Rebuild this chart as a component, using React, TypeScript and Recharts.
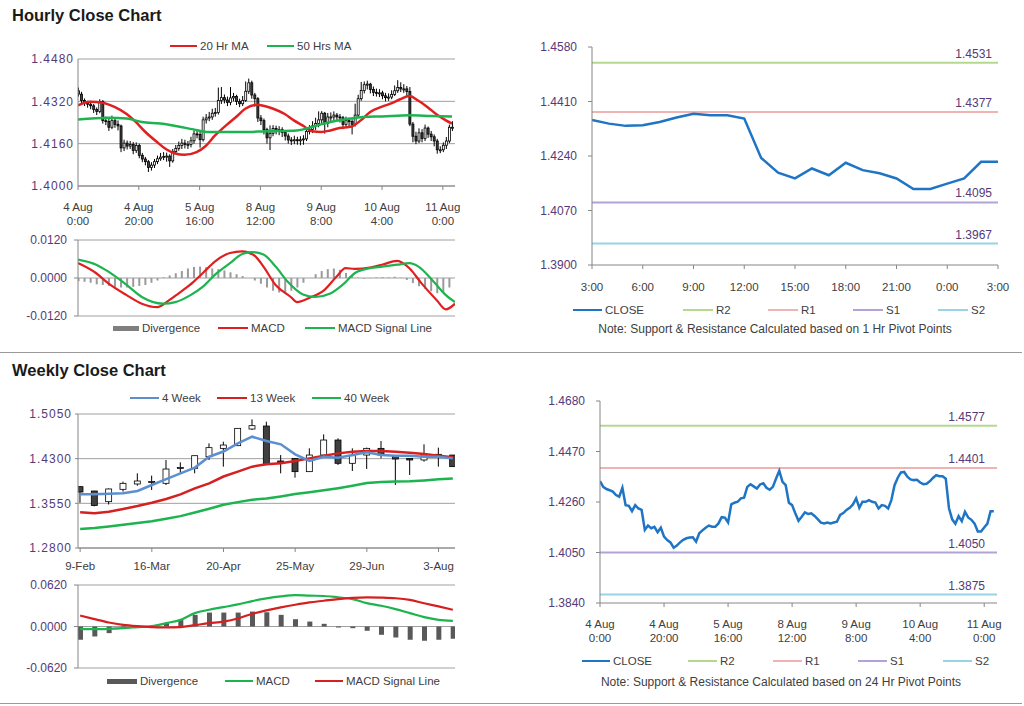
import React from 'react';
import { ComposedChart, Bar, Line, XAxis, YAxis, CartesianGrid, ReferenceLine } from 'recharts';

const FONT = '"Liberation Sans", Arial, sans-serif';
const AXIS = '#868686';
const GRID = '#a0a0a0';
const TICK_Y = '#553a77';
const TICK_X = '#404040';

// ---- hourly data (4 Aug 0:00 .. 11 Aug 3:00) ----
const hourlyFirstOpen = 1.436;
const hourlyClose = [
  1.4347, 1.4323, 1.4314, 1.4309, 1.4303, 1.4289, 1.4282, 1.4319, 1.4247, 1.4244,
  1.4222, 1.4247, 1.4233, 1.4227, 1.4144, 1.4162, 1.4151, 1.4157, 1.4134, 1.4153,
  1.4116, 1.4102, 1.4092, 1.407, 1.4079, 1.4092, 1.4103, 1.4109, 1.4112, 1.4113,
  1.4095, 1.413, 1.4142, 1.4153, 1.4162, 1.4157, 1.4157, 1.4171, 1.4197, 1.4195,
  1.4175, 1.425, 1.4257, 1.4261, 1.4275, 1.4278, 1.4323, 1.4334, 1.4325, 1.4316,
  1.4333, 1.4338, 1.4319, 1.4311, 1.4323, 1.4358, 1.439, 1.4344, 1.433, 1.4257,
  1.4247, 1.4213, 1.4182, 1.4199, 1.4217, 1.421, 1.4213, 1.4202, 1.4189, 1.4174,
  1.4171, 1.4175, 1.4171, 1.4175, 1.4178, 1.4206, 1.4214, 1.4227, 1.4236, 1.425,
  1.4275, 1.4236, 1.4261, 1.4261, 1.4268, 1.4261, 1.4258, 1.4233, 1.4247, 1.4244,
  1.4233, 1.4268, 1.433, 1.4361, 1.4383, 1.4385, 1.4365, 1.4354, 1.4351, 1.4352,
  1.4341, 1.4334, 1.4336, 1.4346, 1.436, 1.4372, 1.4367, 1.4367, 1.4357, 1.4234,
  1.4188, 1.417, 1.4201, 1.418, 1.4219, 1.4196, 1.4186, 1.417, 1.4137, 1.4137,
  1.4154, 1.417, 1.4222, 1.4222,
];
const hourlyHigh = [
  1.4372, 1.4356, 1.4331, 1.4322, 1.4318, 1.431, 1.4297, 1.4328, 1.4325, 1.4262,
  1.4254, 1.4266, 1.4255, 1.4248, 1.4232, 1.4175, 1.4172, 1.417, 1.4166, 1.4165,
  1.416, 1.4125, 1.411, 1.4098, 1.409, 1.4102, 1.4115, 1.4125, 1.4128, 1.4126,
  1.412, 1.414, 1.4155, 1.4168, 1.4178, 1.4175, 1.417, 1.4186, 1.421, 1.4212,
  1.4205, 1.4262, 1.4272, 1.428, 1.4292, 1.4295, 1.4372, 1.4374, 1.4346, 1.4338,
  1.4374, 1.4352, 1.4345, 1.433, 1.434, 1.4395, 1.4406, 1.4398, 1.4352, 1.4336,
  1.4268, 1.4255, 1.422, 1.4229, 1.423, 1.4228, 1.4226, 1.4222, 1.421, 1.4198,
  1.4185, 1.419, 1.4186, 1.4188, 1.4192, 1.4218, 1.423, 1.4245, 1.4258, 1.4282,
  1.4283, 1.428, 1.4276, 1.4278, 1.4282, 1.4276, 1.4272, 1.4265, 1.4262, 1.4258,
  1.4252, 1.4311, 1.4345, 1.4393, 1.4395, 1.4398, 1.439, 1.4376, 1.4368, 1.4366,
  1.436, 1.4352, 1.435, 1.4362, 1.438, 1.44, 1.4392, 1.4385, 1.4378, 1.4374,
  1.4242, 1.4205, 1.4218, 1.4215, 1.4232, 1.4225, 1.4208, 1.4195, 1.4178, 1.415,
  1.4165, 1.4185, 1.4232, 1.4245,
];
const hourlyLow = [
  1.4338, 1.4312, 1.4302, 1.4296, 1.429, 1.4276, 1.4268, 1.4275, 1.4236, 1.423,
  1.4208, 1.4215, 1.422, 1.421, 1.4128, 1.4132, 1.4138, 1.414, 1.412, 1.4125,
  1.4105, 1.409, 1.4078, 1.4053, 1.4058, 1.4068, 1.4083, 1.4095, 1.4098, 1.4092,
  1.4072, 1.4088, 1.412, 1.4133, 1.414, 1.4142, 1.414, 1.4146, 1.416, 1.418,
  1.4145, 1.4168, 1.4236, 1.4245, 1.425, 1.4262, 1.427, 1.431, 1.4312, 1.4302,
  1.4305, 1.432, 1.4306, 1.4298, 1.4302, 1.4318, 1.4348, 1.433, 1.43, 1.4242,
  1.423, 1.4195, 1.416, 1.4136, 1.4188, 1.4195, 1.4192, 1.4185, 1.4172, 1.416,
  1.4155, 1.4158, 1.4156, 1.4154, 1.4156, 1.417, 1.4195, 1.42, 1.4212, 1.4222,
  1.4238, 1.4198, 1.4222, 1.424, 1.4245, 1.4246, 1.424, 1.4215, 1.422, 1.4226,
  1.4195, 1.4225, 1.426, 1.4322, 1.435, 1.4365, 1.435, 1.434, 1.4338, 1.4336,
  1.4328, 1.432, 1.4322, 1.4328, 1.434, 1.4352, 1.4355, 1.4352, 1.434, 1.4226,
  1.4165, 1.4158, 1.4162, 1.4165, 1.417, 1.4182, 1.417, 1.415, 1.4122, 1.4124,
  1.4128, 1.414, 1.4162, 1.4208,
];
const hourlyTickIdx = [0, 20, 40, 60, 80, 100, 120];
const hourlyTickLabels = [
  ['4 Aug', '0:00'], ['4 Aug', '20:00'], ['5 Aug', '16:00'], ['8 Aug', '12:00'],
  ['9 Aug', '8:00'], ['10 Aug', '4:00'], ['11 Aug', '0:00'],
];

// moving averages read at the hours listed
const ma20Idx = [0, 4, 8, 12, 16, 19, 22, 26, 29, 32, 35, 39, 42, 45, 49, 52, 55, 59, 61, 64, 68, 71, 74, 77, 80, 83, 86, 90, 93, 96, 100, 103, 106, 109, 112, 115, 118, 121, 123];
const ma20 = [1.4305, 1.4318, 1.4315, 1.4299, 1.4272, 1.4242, 1.4206, 1.4166, 1.4139, 1.4123, 1.4118, 1.4128, 1.4151, 1.419, 1.4232, 1.4261, 1.4292, 1.4307, 1.4303, 1.4293, 1.4272, 1.4248, 1.4228, 1.4207, 1.4204, 1.421, 1.4219, 1.4225, 1.4248, 1.4279, 1.43, 1.4312, 1.4328, 1.434, 1.4322, 1.4298, 1.427, 1.4248, 1.4236];
const ma50Idx = [0, 10, 16, 21, 27, 32, 38, 43, 49, 54, 62, 72, 78, 83, 88, 94, 100, 109, 116, 123];
const ma50 = [1.4251, 1.4258, 1.4255, 1.4242, 1.4236, 1.4227, 1.4214, 1.4204, 1.4204, 1.4204, 1.4207, 1.421, 1.4227, 1.4242, 1.4252, 1.4261, 1.4263, 1.4267, 1.4265, 1.4263];

// hourly MACD
const macdIdx = [0, 6, 10, 16, 21, 26, 30, 33, 38, 41, 45, 50, 54, 58, 61, 65, 70, 72, 76, 81, 85, 88, 91, 96, 100, 105, 109, 113, 118, 121, 124];
const macdHourly = [0.0047, 0.0015, -0.0017, -0.0054, -0.0081, -0.0092, -0.007, -0.0049, -0.0012, 0.0015, 0.0052, 0.0079, 0.0084, 0.0071, 0.0036, -0.0022, -0.006, -0.0076, -0.0063, -0.0038, 0.0004, 0.0031, 0.0029, 0.0033, 0.0042, 0.0054, 0.0031, -0.0017, -0.007, -0.0099, -0.0081];
const signalIdx = [0, 6, 10, 16, 21, 28, 32, 37, 41, 45, 50, 54, 57, 61, 65, 69, 74, 78, 83, 87, 91, 96, 100, 105, 109, 112, 117, 121, 124];
const signalHourly = [0.0058, 0.0042, 0.002, -0.0022, -0.006, -0.0081, -0.0076, -0.0054, -0.0028, 0.001, 0.0047, 0.0076, 0.0082, 0.0074, 0.0036, -0.0012, -0.0052, -0.006, -0.0049, -0.0022, 0.0015, 0.0031, 0.0036, 0.0042, 0.0047, 0.0036, -0.0012, -0.0054, -0.0076];
// divergence, one bar every two hours
const divHourly = [
  -0.001, -0.0012, -0.0015, -0.002, -0.0022, -0.0025, -0.0028, -0.003, -0.003, -0.0028,
  -0.0025, -0.0022, -0.0015, -0.0008, 0.0002, 0.0008, 0.0015, 0.0022, 0.003, 0.0035,
  0.0036, 0.0034, 0.003, 0.0028, 0.0024, 0.0018, 0.0012, 0.0006, 0.0, -0.0008,
  -0.0018, -0.003, -0.004, -0.0046, -0.0048, -0.004, -0.003, -0.0015, 0.0, 0.0012,
  0.0022, 0.0028, 0.003, 0.0026, 0.0016, 0.0006, 0.0001, -0.0002, -0.0001, 0.0002,
  0.0003, 0.0002, 0.0004, 0.0001, -0.0006, -0.0016, -0.0026, -0.0034, -0.0042, -0.0048,
  -0.0045, -0.003,
];

// pivot levels
const hourPivotNames = ['R2', 'R1', 'S1', 'S2'];
const hourPivotValues = [1.4531, 1.4377, 1.4095, 1.3967];
const dayPivotValues = [1.4577, 1.4401, 1.405, 1.3875];
const pivotColors = ['#b5d88f', '#f0b3b3', '#b3a2d6', '#9ad3e3'];
const lastDayHours = ['3:00', '4:00', '5:00', '6:00', '7:00', '8:00', '9:00', '10:00', '11:00', '12:00', '13:00', '14:00', '15:00', '16:00', '17:00', '18:00', '19:00', '20:00', '21:00', '22:00', '23:00', '0:00', '1:00', '2:00', '3:00'];

// ---- weekly data ----
const weekLabels = ['9-Feb', '16-Feb', '23-Feb', '2-Mar', '9-Mar', '16-Mar', '23-Mar', '30-Mar', '6-Apr', '13-Apr', '20-Apr', '27-Apr', '4-May', '11-May', '18-May', '25-May', '1-Jun', '8-Jun', '15-Jun', '22-Jun', '29-Jun', '6-Jul', '13-Jul', '20-Jul', '27-Jul', '3-Aug', '10-Aug'];
const weeklyOpen = [1.383, 1.3757, 1.3578, 1.3785, 1.3875, 1.391, 1.3886, 1.4145, 1.4138, 1.4333, 1.4473, 1.4518, 1.4798, 1.4848, 1.4261, 1.4305, 1.4082, 1.4361, 1.4613, 1.4222, 1.4361, 1.4473, 1.435, 1.4305, 1.4278, 1.4373, 1.4361];
const weeklyClose = [1.374, 1.3515, 1.3791, 1.3886, 1.3925, 1.3918, 1.4126, 1.4152, 1.435, 1.4485, 1.4529, 1.4809, 1.4854, 1.4205, 1.4222, 1.4082, 1.4361, 1.4613, 1.4222, 1.435, 1.4473, 1.4361, 1.4294, 1.4278, 1.4361, 1.435, 1.4166];
const weeklyHigh = [1.3835, 1.376, 1.38, 1.3914, 1.4054, 1.4015, 1.4278, 1.4238, 1.435, 1.4557, 1.4585, 1.4809, 1.496, 1.4921, 1.4361, 1.4305, 1.4473, 1.4708, 1.4641, 1.4473, 1.4485, 1.4597, 1.435, 1.4305, 1.4541, 1.4485, 1.4361];
const weeklyLow = [1.356, 1.35, 1.353, 1.3746, 1.3847, 1.3774, 1.3858, 1.4054, 1.4054, 1.4277, 1.4166, 1.4518, 1.4781, 1.42, 1.4054, 1.3981, 1.4082, 1.4361, 1.4194, 1.4093, 1.4126, 1.4305, 1.3858, 1.4026, 1.425, 1.4166, 1.4166];
const ma4w = [1.3701, 1.3701, 1.3712, 1.3718, 1.3757, 1.3858, 1.3958, 1.4054, 1.415, 1.4333, 1.442, 1.4557, 1.4669, 1.4597, 1.4541, 1.4373, 1.4261, 1.4333, 1.4317, 1.4361, 1.4406, 1.4361, 1.435, 1.435, 1.4333, 1.4333, 1.4305];
const ma13w = [1.3399, 1.3382, 1.341, 1.3455, 1.3505, 1.3561, 1.3623, 1.3701, 1.3802, 1.3886, 1.4, 1.4082, 1.4166, 1.4205, 1.4222, 1.4261, 1.4305, 1.435, 1.4389, 1.4417, 1.4428, 1.4428, 1.4417, 1.4401, 1.4378, 1.435, 1.4322];
const ma40w = [1.3119, 1.3135, 1.316, 1.319, 1.322, 1.325, 1.329, 1.3335, 1.3395, 1.346, 1.3525, 1.357, 1.361, 1.363, 1.3665, 1.3705, 1.3735, 1.377, 1.3805, 1.3845, 1.389, 1.391, 1.3918, 1.392, 1.3935, 1.3955, 1.3968];
const divWeekly = [-0.0198, -0.0149, -0.0099, -0.0025, -0.0008, 0.0005, 0.005, 0.0099, 0.0174, 0.0208, 0.0208, 0.0208, 0.0223, 0.0213, 0.0174, 0.0109, 0.0074, 0.004, -0.0015, -0.0025, -0.0064, -0.0124, -0.0164, -0.0198, -0.0213, -0.0198, -0.0183];
const macdWeekly = [-0.0035, -0.004, -0.0035, -0.0025, -0.001, 0.0005, 0.005, 0.0099, 0.02, 0.025, 0.029, 0.033, 0.038, 0.042, 0.045, 0.0468, 0.0461, 0.0456, 0.0435, 0.041, 0.035, 0.031, 0.026, 0.02, 0.014, 0.01, 0.0084];
const signalWeekly = [0.0164, 0.011, 0.006, 0.0025, 0.0005, -0.0008, -0.0015, -0.001, 0.002, 0.005, 0.0074, 0.012, 0.019, 0.024, 0.0285, 0.0325, 0.036, 0.0385, 0.041, 0.0428, 0.0436, 0.0432, 0.0422, 0.0397, 0.0347, 0.03, 0.025];

// ---- tables ----
const hourlyRows = hourlyClose.map((c, i) => ({
  i,
  open: i === 0 ? hourlyFirstOpen : hourlyClose[i - 1],
  close: c,
  high: hourlyHigh[i],
  low: hourlyLow[i],
  range: [hourlyLow[i], hourlyHigh[i]],
}));
const pts = (idx: number[], vals: number[]) => idx.map((i, k) => ({ i, v: vals[k] }));
const ma20Pts = pts(ma20Idx, ma20);
const ma50Pts = pts(ma50Idx, ma50);
const macdPts = pts(macdIdx, macdHourly);
const signalPts = pts(signalIdx, signalHourly);
const divRows = divHourly.map((d, k) => ({ i: k * 2, d }));
const dayRows = hourlyClose.slice(-25).map((close, i) => ({ i, close }));

const weeklyRows = weekLabels.map((_, w) => ({
  w,
  open: weeklyOpen[w],
  close: weeklyClose[w],
  high: weeklyHigh[w],
  low: weeklyLow[w],
  range: [weeklyLow[w], weeklyHigh[w]],
  ma4: ma4w[w],
  ma13: ma13w[w],
  ma40: ma40w[w],
  d: divWeekly[w],
  macd: macdWeekly[w],
  sig: signalWeekly[w],
}));

const fmt4 = (v: number) => v.toFixed(4);

const Candle = (props: any) => {
  const { x, y, width, height, payload } = props;
  if (x == null || !payload) return null;
  const top = Math.min(y, y + height);
  const h = Math.abs(height);
  const { open, close, high, low } = payload;
  const yOf = (v: number) => top + ((high - v) / (high - low)) * h;
  const cx = x + width / 2;
  const bodyTop = yOf(Math.max(open, close));
  const bodyH = Math.max(1, yOf(Math.min(open, close)) - bodyTop);
  const up = close >= open;
  return (
    <g>
      <line x1={cx} x2={cx} y1={top} y2={top + h} stroke="#000" strokeWidth={1} />
      <rect x={x} y={bodyTop} width={width} height={bodyH} fill={up ? '#fff' : '#404040'} stroke="#000" strokeWidth={0.8} />
    </g>
  );
};

const TwoLineTick = (props: any) => {
  const { x, y, payload } = props;
  const k = hourlyTickIdx.indexOf(payload.value);
  const [a, b] = hourlyTickLabels[k] ?? ['', ''];
  return (
    <text x={x} y={y} textAnchor="middle" fill={TICK_X} fontSize={11.5} fontFamily={FONT}>
      <tspan x={x} dy={16.5}>{a}</tspan>
      <tspan x={x} dy={14}>{b}</tspan>
    </text>
  );
};

const PivotLabel = (props: any) => {
  const { viewBox, text, inset } = props;
  if (!viewBox) return null;
  return (
    <text x={viewBox.x + viewBox.width - inset} y={viewBox.y - 5} textAnchor="end" fontSize={12} fontFamily={FONT} fill={TICK_Y}>
      {text}
    </text>
  );
};

const Key = ({ x, y, w = 29, color, label, box = false }: any) => (
  <div style={{ position: 'absolute', left: x, top: y - 8, height: 16, display: 'flex', alignItems: 'center', whiteSpace: 'nowrap', fontSize: 11.5, color: '#404040' }}>
    <span style={{ display: 'inline-block', width: w, height: box ? 5 : 2, background: color, marginRight: 3 }} />
    {label}
  </div>
);

const yTickCandle = { fill: TICK_Y, fontSize: 12, fontFamily: FONT, letterSpacing: 1 };
const yTick = { fill: TICK_Y, fontSize: 12, fontFamily: FONT };
const xTick = { fill: TICK_X, fontSize: 11.5, fontFamily: FONT };

const Box = ({ left, top, children }: any) => (
  <div style={{ position: 'absolute', left, top }}>{children}</div>
);

const titleStyle: React.CSSProperties = { position: 'absolute', left: 12, fontSize: 16.5, fontWeight: 700, lineHeight: '20px', color: '#1a1a1a' };

export default function App() {
  return (
    <div style={{ position: 'absolute', left: 0, top: 0, width: 1024, height: 706, background: '#fff', fontFamily: FONT, overflow: 'hidden' }}>
      <div style={{ ...titleStyle, top: 5 }}>Hourly Close Chart</div>
      <div style={{ ...titleStyle, top: 360 }}>Weekly Close Chart</div>
      <div style={{ position: 'absolute', left: 0, top: 352, width: 1022, height: 1, background: '#9a9a9a' }} />
      <div style={{ position: 'absolute', left: 0, top: 703, width: 1022, height: 1, background: '#9a9a9a' }} />

      {/* hourly candles */}
      <Key x={170} y={46} w={27} color="#e02020" label="20 Hr MA" />
      <Key x={267} y={46} w={27} color="#1db34f" label="50 Hrs MA" />
      <Box left={0} top={40}>
        <ComposedChart width={470} height={190} data={hourlyRows} margin={{ top: 19, right: 15, bottom: 4, left: 0 }}>
          <CartesianGrid vertical={false} stroke={GRID} />
          <XAxis type="number" dataKey="i" domain={[0, 124]} allowDataOverflow ticks={hourlyTickIdx} interval={0} height={40} tick={<TwoLineTick />} tickSize={4} tickMargin={4} stroke={AXIS} />
          <YAxis type="number" domain={[1.4, 1.448]} allowDataOverflow ticks={[1.4, 1.416, 1.432, 1.448]} interval={0} tickFormatter={fmt4} width={78} tick={yTickCandle} tickSize={0} tickMargin={4} stroke={AXIS} />
          <Bar dataKey="range" barSize={2} isAnimationActive={false} shape={(p: any) => <Candle {...p} />} />
          <Line data={ma20Pts} dataKey="v" type="monotone" stroke="#e02020" strokeWidth={2.5} dot={false} isAnimationActive={false} />
          <Line data={ma50Pts} dataKey="v" type="monotone" stroke="#1db34f" strokeWidth={2.5} dot={false} isAnimationActive={false} />
        </ComposedChart>
      </Box>

      {/* hourly MACD */}
      <Box left={0} top={232}>
        <ComposedChart width={470} height={96} data={divRows} margin={{ top: 8, right: 15, bottom: 12, left: 0 }}>
          <CartesianGrid vertical={false} stroke={GRID} />
          <XAxis type="number" dataKey="i" domain={[0, 124]} allowDataOverflow hide />
          <YAxis type="number" domain={[-0.012, 0.012]} allowDataOverflow ticks={[-0.012, 0, 0.012]} interval={0} tickFormatter={fmt4} width={78} tick={yTick} tickSize={4} tickMargin={7} stroke={AXIS} />
          <Bar dataKey="d" barSize={2} fill="#9a9a9a" isAnimationActive={false} />
          <Line data={macdPts} dataKey="v" type="monotone" stroke="#e02020" strokeWidth={2.2} dot={false} isAnimationActive={false} />
          <Line data={signalPts} dataKey="v" type="monotone" stroke="#1db34f" strokeWidth={2.2} dot={false} isAnimationActive={false} />
        </ComposedChart>
      </Box>
      <Key x={113} y={328} w={26} color="#7f7f7f" label="Divergence" box />
      <Key x={218} y={328} w={30} color="#e02020" label="MACD" />
      <Key x={305} y={328} w={30} color="#1db34f" label="MACD Signal Line" />

      {/* last 24 hours with 1 Hr pivots */}
      <Box left={514} top={30}>
        <ComposedChart width={500} height={270} data={dayRows} margin={{ top: 17, right: 16, bottom: 5, left: 0 }}>
          <XAxis type="number" dataKey="i" domain={[0, 24]} allowDataOverflow ticks={[0, 3, 6, 9, 12, 15, 18, 21, 24]} interval={0} tickFormatter={(i: number) => lastDayHours[i]} height={30} tick={xTick} tickSize={4} tickMargin={14} stroke={AXIS} />
          <YAxis type="number" domain={[1.39, 1.458]} allowDataOverflow ticks={[1.39, 1.407, 1.424, 1.441, 1.458]} interval={0} tickFormatter={fmt4} width={78} tick={yTick} tickSize={4} tickMargin={11} stroke={AXIS} />
          {hourPivotValues.map((v, k) => (
            <ReferenceLine key={hourPivotNames[k]} y={v} stroke={pivotColors[k]} strokeWidth={2} label={<PivotLabel text={fmt4(v)} inset={6} />} />
          ))}
          <Line dataKey="close" type="linear" stroke="#1f75c4" strokeWidth={2.5} dot={false} isAnimationActive={false} />
        </ComposedChart>
      </Box>
      <Key x={573} y={310} w={29} color="#1f75c4" label="CLOSE" />
      {hourPivotNames.map((n, k) => (
        <Key key={n} x={683 + k * 85} y={310} w={30} color={pivotColors[k]} label={n} />
      ))}
      <div style={{ position: 'absolute', left: 520, width: 510, top: 322, textAlign: 'center', fontSize: 12, color: '#404040' }}>
        Note: Support &amp; Resistance Calculated based on 1 Hr Pivot Points
      </div>

      {/* weekly candles */}
      <Key x={130} y={398} w={29} color="#5b8fd0" label="4 Week" />
      <Key x={217} y={398} w={30} color="#d62020" label="13 Week" />
      <Key x={312} y={398} w={29} color="#1db34f" label="40 Week" />
      <Box left={0} top={400}>
        <ComposedChart width={470} height={180} data={weeklyRows} margin={{ top: 14, right: 15, bottom: 7, left: 0 }}>
          <CartesianGrid vertical={false} stroke={GRID} />
          <XAxis type="number" dataKey="w" domain={[-0.15, 26.15]} allowDataOverflow ticks={[0, 5, 10, 15, 20, 25]} interval={0} tickFormatter={(w: number) => weekLabels[w]} height={25} tick={xTick} tickSize={4} tickMargin={10} stroke={AXIS} />
          <YAxis type="number" domain={[1.28, 1.505]} allowDataOverflow ticks={[1.28, 1.355, 1.43, 1.505]} interval={0} tickFormatter={fmt4} width={78} tick={yTickCandle} tickSize={3} tickMargin={3} stroke={AXIS} />
          <Bar dataKey="range" barSize={6} isAnimationActive={false} shape={(p: any) => <Candle {...p} />} />
          <Line dataKey="ma40" type="linear" stroke="#1db34f" strokeWidth={2.5} dot={false} isAnimationActive={false} />
          <Line dataKey="ma13" type="linear" stroke="#d62020" strokeWidth={2.5} dot={false} isAnimationActive={false} />
          <Line dataKey="ma4" type="linear" stroke="#5b8fd0" strokeWidth={2.5} dot={false} isAnimationActive={false} />
        </ComposedChart>
      </Box>

      {/* weekly MACD */}
      <Box left={0} top={578}>
        <ComposedChart width={470} height={102} data={weeklyRows} margin={{ top: 7, right: 15, bottom: 12, left: 0 }}>
          <CartesianGrid vertical={false} stroke={GRID} />
          <XAxis type="number" dataKey="w" domain={[-0.15, 26.15]} allowDataOverflow hide />
          <YAxis type="number" domain={[-0.062, 0.062]} allowDataOverflow ticks={[-0.062, 0, 0.062]} interval={0} tickFormatter={fmt4} width={78} tick={yTick} tickSize={4} tickMargin={7} stroke={AXIS} />
          <Bar dataKey="d" barSize={5} fill="#595959" isAnimationActive={false} />
          <Line dataKey="macd" type="monotone" stroke="#1db34f" strokeWidth={2.2} dot={false} isAnimationActive={false} />
          <Line dataKey="sig" type="monotone" stroke="#d62020" strokeWidth={2.2} dot={false} isAnimationActive={false} />
        </ComposedChart>
      </Box>
      <Key x={107} y={681} w={30} color="#595959" label="Divergence" box />
      <Key x={225} y={681} w={28} color="#1db34f" label="MACD" />
      <Key x={315} y={681} w={28} color="#d62020" label="MACD Signal Line" />

      {/* hourly close with 24 Hr pivots */}
      <Box left={520} top={385}>
        <ComposedChart width={490} height={260} data={hourlyRows} margin={{ top: 16, right: 13, bottom: 2, left: 0 }}>
          <XAxis type="number" dataKey="i" domain={[0, 124]} allowDataOverflow ticks={hourlyTickIdx} interval={0} height={40} tick={<TwoLineTick />} tickSize={4} tickMargin={4} stroke={AXIS} />
          <YAxis type="number" domain={[1.384, 1.468]} allowDataOverflow ticks={[1.384, 1.405, 1.426, 1.447, 1.468]} interval={0} tickFormatter={fmt4} width={80} tick={yTick} tickSize={4} tickMargin={11} stroke={AXIS} />
          {dayPivotValues.map((v, k) => (
            <ReferenceLine key={hourPivotNames[k]} y={v} stroke={pivotColors[k]} strokeWidth={2} label={<PivotLabel text={fmt4(v)} inset={12} />} />
          ))}
          <Line dataKey="close" type="linear" stroke="#1f75c4" strokeWidth={2.5} dot={false} isAnimationActive={false} />
        </ComposedChart>
      </Box>
      <Key x={582} y={661} w={28} color="#1f75c4" label="CLOSE" />
      {hourPivotNames.map((n, k) => (
        <Key key={n} x={688 + k * 85} y={661} w={29} color={pivotColors[k]} label={n} />
      ))}
      <div style={{ position: 'absolute', left: 526, width: 510, top: 675, textAlign: 'center', fontSize: 12, color: '#404040' }}>
        Note: Support &amp; Resistance Calculated based on 24 Hr Pivot Points
      </div>
    </div>
  );
}
